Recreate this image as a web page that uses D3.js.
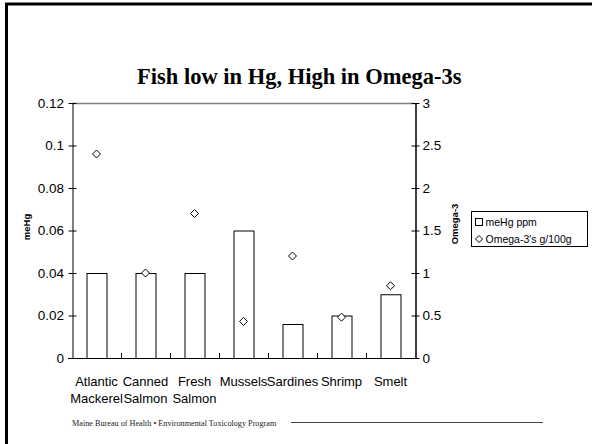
<!DOCTYPE html>
<html><head><meta charset="utf-8">
<script src="https://cdn.jsdelivr.net/npm/d3@7"></script>
<style>body{margin:0;background:#fff}svg{display:block}</style>
</head><body>
<script>
const categories = [["Atlantic","Mackerel"],["Canned","Salmon"],["Fresh","Salmon"],["Mussels"],["Sardines"],["Shrimp"],["Smelt"]];
const meHg = [0.04, 0.04, 0.04, 0.06, 0.016, 0.02, 0.03];
const omega3 = [2.4, 1.0, 1.7, 0.43, 1.2, 0.48, 0.85];
const leftTicks = [0, 0.02, 0.04, 0.06, 0.08, 0.1, 0.12];
const rightTicks = [0, 0.5, 1, 1.5, 2, 2.5, 3];
const seriesNames = ["meHg ppm", "Omega-3's g/100g"];

const W = 592, H = 444;
const svg = d3.select("body").append("svg").attr("width", W).attr("height", H);
const L = 72, R = 415, T = 103, B = 358;
const font = "Liberation Sans, Arial, sans-serif";
const serif = "Liberation Serif, Times New Roman, serif";

// slide border
svg.append("line").attr("x1",5).attr("x2",W).attr("y1",4).attr("y2",4).attr("stroke","#000").attr("stroke-width",3);
svg.append("line").attr("x1",6.5).attr("x2",6.5).attr("y1",3).attr("y2",H).attr("stroke","#000").attr("stroke-width",3);

const x = d3.scaleBand().domain(d3.range(categories.length)).range([L, R]);
const yL = d3.scaleLinear().domain([0, 0.12]).range([B, T]);
const yR = d3.scaleLinear().domain([0, 3]).range([B, T]);

// title
svg.append("text").attr("x", 137).attr("y", 84)
  .attr("font-family",serif).attr("font-weight","bold").attr("font-size",22.5)
  .text("Fish low in Hg, High in Omega-3s");

// plot top border
svg.append("line").attr("x1",L).attr("x2",R).attr("y1",T+0.5).attr("y2",T+0.5).attr("stroke","#808080").attr("stroke-width",1.5);

// bars
const bw = 20;
svg.append("g").selectAll("rect").data(meHg).join("rect")
  .attr("x",(d,i)=>x(i)+x.bandwidth()/2-bw/2+0.5).attr("width",bw)
  .attr("y",d=>yL(d)+0.5).attr("height",d=>B-yL(d))
  .attr("fill","#fff").attr("stroke","#000").attr("stroke-width",1);

// left axis
const gl = svg.append("g").attr("transform",`translate(${L+0.5},0)`)
  .call(d3.axisLeft(yL).tickValues(leftTicks).tickFormat(d=>String(d)).tickSize(4).tickSizeOuter(0));
gl.select(".domain").attr("stroke","#000");
gl.selectAll(".tick line").attr("x1",4).attr("x2",-4);
gl.selectAll(".tick text").attr("x",-8.5).attr("font-family",font).attr("font-size",13.5).attr("fill","#000");

// right axis
const gr = svg.append("g").attr("transform",`translate(${R+0.5},0)`)
  .call(d3.axisRight(yR).tickValues(rightTicks).tickFormat(d=>String(d)).tickSize(4).tickSizeOuter(0));
gr.select(".domain").attr("stroke","#000").attr("stroke-width",1.5);
gr.selectAll(".tick line").attr("x1",-4).attr("x2",4);
gr.selectAll(".tick text").attr("x",7).attr("font-family",font).attr("font-size",13.5).attr("fill","#000");

// x axis line and ticks
svg.append("line").attr("x1",L-4).attr("x2",R+4).attr("y1",B+0.5).attr("y2",B+0.5).attr("stroke","#000");
svg.append("g").selectAll("line").data(d3.range(1,categories.length)).join("line")
  .attr("x1",i=>Math.round(x(i))+0.5).attr("x2",i=>Math.round(x(i))+0.5)
  .attr("y1",B).attr("y2",B-5).attr("stroke","#000");

// category labels
const cl = svg.append("g").selectAll("text").data(categories).join("text")
  .attr("x",(d,i)=>x(i)+x.bandwidth()/2).attr("y",386).attr("text-anchor","middle")
  .attr("font-family",font).attr("font-size",13).attr("fill","#000");
cl.each(function(d){
  const t = d3.select(this);
  d.forEach((s,k)=>t.append("tspan").attr("x",t.attr("x")).attr("dy",k?16.5:0).text(s));
});

// diamonds
const ds = 4;
const diamond = (cx,cy,s)=>`M${cx},${cy-s}L${cx+s},${cy}L${cx},${cy+s}L${cx-s},${cy}Z`;
svg.append("g").selectAll("path").data(omega3).join("path")
  .attr("d",(d,i)=>diamond(x(i)+x.bandwidth()/2, yR(d), ds))
  .attr("fill","#fff").attr("stroke","#000").attr("stroke-width",1);

// axis titles
svg.append("text").attr("transform","translate(29.5,227) rotate(-90)").attr("text-anchor","middle")
  .attr("font-family",font).attr("font-weight","bold").attr("font-size",9.5).text("meHg");
svg.append("text").attr("transform","translate(457.5,224) rotate(-90)").attr("text-anchor","middle")
  .attr("font-family",font).attr("font-weight","bold").attr("font-size",9.5).text("Omega-3");

// legend
const lg = svg.append("g");
lg.append("rect").attr("x",471.5).attr("y",211.5).attr("width",116).attr("height",35).attr("fill","#fff").attr("stroke","#000");
lg.append("rect").attr("x",475.5).attr("y",218.5).attr("width",7).attr("height",7).attr("fill","#fff").attr("stroke","#000");
lg.append("path").attr("d",diamond(479,239,3.5)).attr("fill","#fff").attr("stroke","#000");
lg.selectAll("text").data(seriesNames).join("text")
  .attr("x",485.5).attr("y",(d,i)=>226+i*17).attr("font-family",font).attr("font-size",10.5).attr("fill","#000").text(d=>d);

// footer
svg.append("text").attr("x",72).attr("y",425.5).attr("font-family",serif)
  .attr("font-size",8.2).attr("fill","#222").text("Maine Bureau of Health \u2022 Environmental Toxicology Program");
svg.append("line").attr("x1",291).attr("x2",543).attr("y1",422.5).attr("y2",422.5).attr("stroke","#444").attr("stroke-width",1);
</script>
</body></html>
